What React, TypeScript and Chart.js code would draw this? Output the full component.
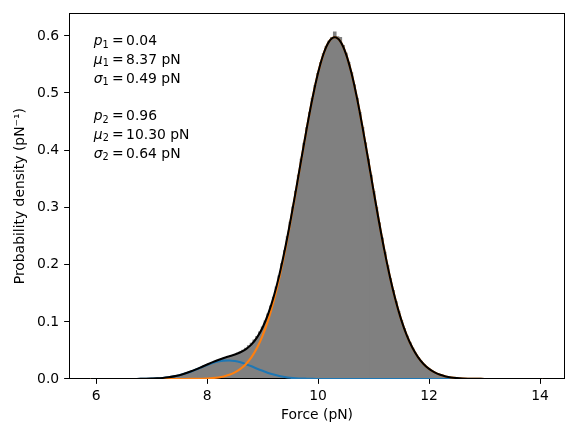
import React, { useEffect, useRef } from "react";
import { Chart, registerables } from "chart.js";

Chart.register(...registerables);

const FONT = '"DejaVu Sans", sans-serif';
const FS = 13.9;
const TICK_LEN = 4.86;

// Fit parameters (text annotation)
const weights = [0.04, 0.96];
const means = [8.37, 10.3];
const sigmas = [0.49, 0.64];

// Axis ticks
const xTicks = [6, 8, 10, 12, 14];
const yTicks = [0.0, 0.1, 0.2, 0.3, 0.4, 0.5, 0.6];

// Histogram bin centres (pN) and densities
const histX = [
  7.2, 7.25, 7.3, 7.35, 7.4, 7.45, 7.5, 7.55, 7.6, 7.65, 7.7, 7.75, 7.8, 7.85, 7.9, 7.95,
  8.0, 8.05, 8.1, 8.15, 8.2, 8.25, 8.3, 8.35, 8.4, 8.45, 8.5, 8.55, 8.6, 8.65, 8.7, 8.75,
  8.8, 8.85, 8.9, 8.95, 9.0, 9.05, 9.1, 9.15, 9.2, 9.25, 9.3, 9.35, 9.4, 9.45, 9.5, 9.55,
  9.6, 9.65, 9.7, 9.75, 9.8, 9.85, 9.9, 9.95, 10.0, 10.05, 10.1, 10.15, 10.2, 10.25, 10.3,
  10.35, 10.4, 10.45, 10.5, 10.55, 10.6, 10.65, 10.7, 10.75, 10.8, 10.85, 10.9, 10.95, 11.0,
  11.05, 11.1, 11.15, 11.2, 11.25, 11.3, 11.35, 11.4, 11.45, 11.5, 11.55, 11.6, 11.65, 11.7,
  11.75, 11.8, 11.85, 11.9, 11.95, 12.0, 12.05, 12.1, 12.15, 12.2, 12.25, 12.3, 12.35, 12.4,
  12.45, 12.5, 12.55, 12.6, 12.65, 12.7, 12.75, 12.8,
];
const histY = [
  0.0019, 0.0024, 0.0031, 0.0036, 0.0047, 0.0055, 0.0069, 0.0082, 0.0094, 0.0113, 0.0127,
  0.015, 0.0168, 0.0192, 0.0209, 0.0236, 0.0252, 0.0279, 0.0298, 0.0318, 0.0336, 0.0352,
  0.037, 0.0385, 0.0402, 0.0418, 0.0436, 0.0458, 0.0481, 0.0512, 0.0548, 0.059, 0.0634,
  0.069, 0.0755, 0.083, 0.092, 0.1025, 0.1148, 0.1287, 0.1442, 0.162, 0.1812, 0.2025,
  0.2255, 0.2498, 0.2752, 0.3022, 0.3296, 0.3575, 0.3858, 0.4138, 0.441, 0.4672, 0.492,
  0.515, 0.536, 0.5548, 0.5706, 0.583, 0.5925, 0.599, 0.6085, 0.6, 0.599, 0.585, 0.5712,
  0.555, 0.537, 0.5158, 0.4925, 0.4676, 0.4412, 0.414, 0.3858, 0.3575, 0.3292, 0.3014,
  0.2742, 0.2478, 0.2228, 0.199, 0.1766, 0.1559, 0.1367, 0.1192, 0.1033, 0.089, 0.0761,
  0.0648, 0.0548, 0.0461, 0.0385, 0.032, 0.0264, 0.0216, 0.0176, 0.0142, 0.0115, 0.0092,
  0.0073, 0.0058, 0.0045, 0.0035, 0.0027, 0.0021, 0.0016, 0.0012, 0.0009, 0.0007, 0.0005,
  0.0004, 0.0003,
];

// Fitted curves sampled along force (pN)
const curveX = [
  5.9, 6.3, 6.6, 6.7, 6.8, 6.9, 7.0, 7.1, 7.2, 7.3, 7.4, 7.5, 7.6, 7.7, 7.8, 7.9, 8.0, 8.1,
  8.2, 8.3, 8.4, 8.5, 8.6, 8.7, 8.8, 8.9, 9.0, 9.1, 9.2, 9.3, 9.4, 9.5, 9.6, 9.7, 9.8, 9.9,
  10.0, 10.1, 10.2, 10.3, 10.4, 10.5, 10.6, 10.7, 10.8, 10.9, 11.0, 11.1, 11.2, 11.3, 11.4,
  11.5, 11.6, 11.7, 11.8, 11.9, 12.0, 12.1, 12.2, 12.3, 12.4, 12.5, 12.6, 12.7, 12.8, 12.9,
  13.0, 13.4, 14.05,
];
const comp1Y = [
  0, 0, 0, 0.0001, 0.0002, 0.0004, 0.0007, 0.0011, 0.0019, 0.003, 0.0046, 0.0067, 0.0095,
  0.0128, 0.0166, 0.0206, 0.0245, 0.028, 0.0307, 0.0322, 0.0325, 0.0314, 0.0292, 0.026,
  0.0222, 0.0181, 0.0143, 0.0107, 0.0078, 0.0054, 0.0036, 0.0023, 0.0014, 0.0008, 0.0005,
  0.0002, 0.0001, 0, 0, 0, 0, 0, 0, 0, 0, 0, 0, 0, 0, 0, 0, 0, 0, 0, 0, 0, 0, 0, 0, 0, 0, 0,
  0, 0, 0, 0, 0, 0, 0,
];
const comp2Y = [
  0, 0, 0, 0, 0, 0, 0, 0, 0, 0, 0, 0, 0.0001, 0.0002, 0.0003, 0.0005, 0.0009, 0.0016, 0.0027,
  0.0045, 0.0073, 0.0115, 0.0176, 0.0263, 0.0384, 0.0547, 0.076, 0.1032, 0.1366, 0.1765,
  0.2226, 0.274, 0.329, 0.3856, 0.441, 0.4922, 0.5362, 0.5699, 0.5912, 0.5984, 0.5912,
  0.5699, 0.5362, 0.4922, 0.441, 0.3856, 0.329, 0.274, 0.2226, 0.1765, 0.1366, 0.1032,
  0.076, 0.0547, 0.0384, 0.0263, 0.0176, 0.0115, 0.0073, 0.0045, 0.0027, 0.0016, 0.0009,
  0.0005, 0.0003, 0.0002, 0.0001, 0, 0,
];
const totalY = [
  0, 0, 0, 0.0001, 0.0002, 0.0004, 0.0007, 0.0011, 0.0019, 0.003, 0.0046, 0.0067, 0.0096,
  0.013, 0.0169, 0.0211, 0.0254, 0.0296, 0.0334, 0.0367, 0.0398, 0.0429, 0.0468, 0.0523,
  0.0606, 0.0728, 0.0903, 0.1139, 0.1444, 0.1819, 0.2262, 0.2763, 0.3304, 0.3864, 0.4415,
  0.4924, 0.5363, 0.57, 0.5912, 0.5984, 0.5912, 0.5699, 0.5362, 0.4922, 0.441, 0.3856,
  0.329, 0.274, 0.2226, 0.1765, 0.1366, 0.1032, 0.076, 0.0547, 0.0384, 0.0263, 0.0176,
  0.0115, 0.0073, 0.0045, 0.0027, 0.0016, 0.0009, 0.0005, 0.0003, 0.0002, 0.0001, 0, 0,
];

const pts = (xs: number[], ys: number[]) => xs.map((x, i) => ({ x, y: ys[i] }));

const HIST_INDEX = 3;

// Axes frame and tick marks, drawn right after the histogram, below the curves
const framePlugin = {
  id: "frame",
  afterDatasetDraw(chart: any, args: any) {
    if (args.index !== HIST_INDEX) return;
    const { ctx, chartArea: a, scales } = chart;
    ctx.save();
    ctx.strokeStyle = "#000";
    ctx.lineWidth = 1;
    const l = Math.round(a.left) + 0.5;
    const t = Math.round(a.top) + 0.5;
    const r = Math.round(a.right) - 0.5;
    const b = Math.round(a.bottom) - 0.5;
    ctx.strokeRect(l, t, r - l, b - t);
    ctx.beginPath();
    for (const v of xTicks) {
      const px = Math.round(scales.x.getPixelForValue(v)) + 0.5;
      ctx.moveTo(px, b);
      ctx.lineTo(px, b + 0.5 + TICK_LEN);
    }
    for (const v of yTicks) {
      const py = Math.round(scales.y.getPixelForValue(v)) - 0.5;
      ctx.moveTo(l, py);
      ctx.lineTo(l - 0.5 - TICK_LEN, py);
    }
    ctx.stroke();
    ctx.restore();
  },
};

const textPlugin = {
  id: "fitText",
  afterDraw(chart: any) {
    const { ctx, chartArea: a } = chart;
    const x0 = a.left + 0.05 * (a.right - a.left);
    const base0 = a.top + 0.05 * (a.bottom - a.top) + 13.5;
    const lh = 18.75;
    const syms = ["p", "\u03BC", "\u03C3"];
    ctx.save();
    ctx.fillStyle = "#000";
    ctx.textAlign = "left";
    ctx.textBaseline = "alphabetic";
    for (let ci = 0; ci < 2; ci++) {
      const vals = [
        weights[ci].toFixed(2),
        means[ci].toFixed(2) + " pN",
        sigmas[ci].toFixed(2) + " pN",
      ];
      for (let ri = 0; ri < 3; ri++) {
        const y = base0 + (ci * 4 + ri) * lh;
        let x = x0;
        ctx.font = `italic ${FS}px ${FONT}`;
        ctx.fillText(syms[ri], x, y);
        x += ctx.measureText(syms[ri]).width;
        ctx.font = `${FS * 0.7}px ${FONT}`;
        const sub = String(ci + 1);
        ctx.fillText(sub, x, y + 2.6);
        x += ctx.measureText(sub).width;
        x += 3.3;
        ctx.font = `${FS}px ${FONT}`;
        ctx.fillText("=", x, y);
        x += ctx.measureText("=").width + 2.3;
        ctx.fillText(vals[ri], x, y);
      }
    }
    ctx.restore();
  },
};

export default function App() {
  const ref = useRef<HTMLCanvasElement | null>(null);

  useEffect(() => {
    document.body.style.margin = "0";
    const canvas = ref.current;
    if (!canvas) return;
    const font = { family: FONT, size: FS };
    const lw = 2.08;
    const chart = new Chart(canvas, {
      type: "bar",
      data: {
        datasets: [
          {
            type: "line",
            data: pts(curveX, totalY),
            borderColor: "#000000",
            borderWidth: lw,
            pointRadius: 0,
            cubicInterpolationMode: "monotone",
            order: 1,
          } as any,
          {
            type: "line",
            data: pts(curveX, comp2Y),
            borderColor: "#ff7f0e",
            borderWidth: lw,
            pointRadius: 0,
            cubicInterpolationMode: "monotone",
            order: 2,
          } as any,
          {
            type: "line",
            data: pts(curveX, comp1Y),
            borderColor: "#1f77b4",
            borderWidth: lw,
            pointRadius: 0,
            cubicInterpolationMode: "monotone",
            order: 3,
          } as any,
          {
            type: "bar",
            data: pts(histX, histY),
            backgroundColor: "#808080",
            borderWidth: 0,
            barPercentage: 1.3,
            categoryPercentage: 1,
            grouped: false,
            order: 4,
          } as any,
        ],
      },
      options: {
        animation: false,
        responsive: false,
        devicePixelRatio: 1,
        layout: { padding: { top: 9, right: 9, left: 0, bottom: 0 } },
        plugins: { legend: { display: false }, tooltip: { enabled: false } },
        scales: {
          x: {
            type: "linear",
            min: 5.51,
            max: 14.45,
            offset: false,
            afterBuildTicks: (s: any) => {
              s.ticks = xTicks.map((v) => ({ value: v }));
            },
            afterFit: (s: any) => {
              s.height = 53;
            },
            ticks: {
              font,
              color: "#000",
              padding: 4.5,
              maxRotation: 0,
              autoSkip: false,
              callback: (v: any) => String(v),
            },
            grid: {
              offset: false,
              drawOnChartArea: false,
              drawTicks: true,
              tickLength: TICK_LEN,
              color: "rgba(0,0,0,0)",
              lineWidth: 1,
            },
            border: { display: false },
            title: {
              display: true,
              text: "Force (pN)",
              font,
              color: "#000",
              padding: { top: 0, bottom: 8.7 },
            },
          },
          y: {
            type: "linear",
            min: 0,
            max: 0.6403,
            afterBuildTicks: (s: any) => {
              s.ticks = yTicks.map((v) => ({ value: v }));
            },
            afterFit: (s: any) => {
              s.width = 69;
            },
            ticks: {
              font,
              color: "#000",
              padding: 5,
              callback: (v: any) => Number(v).toFixed(1),
            },
            grid: {
              offset: false,
              drawOnChartArea: false,
              drawTicks: true,
              tickLength: TICK_LEN,
              color: "rgba(0,0,0,0)",
              lineWidth: 1,
            },
            border: { display: false },
            title: {
              display: true,
              text: "Probability density (pN\u207B\u00B9)",
              font,
              color: "#000",
              padding: { top: 11.7, bottom: 0 },
            },
          },
        },
      },
      plugins: [framePlugin, textPlugin],
    });
    return () => chart.destroy();
  }, []);

  return (
    <div style={{ width: 574, height: 432, position: "relative" }}>
      <canvas ref={ref} width={574} height={432} style={{ display: "block" }} />
    </div>
  );
}
